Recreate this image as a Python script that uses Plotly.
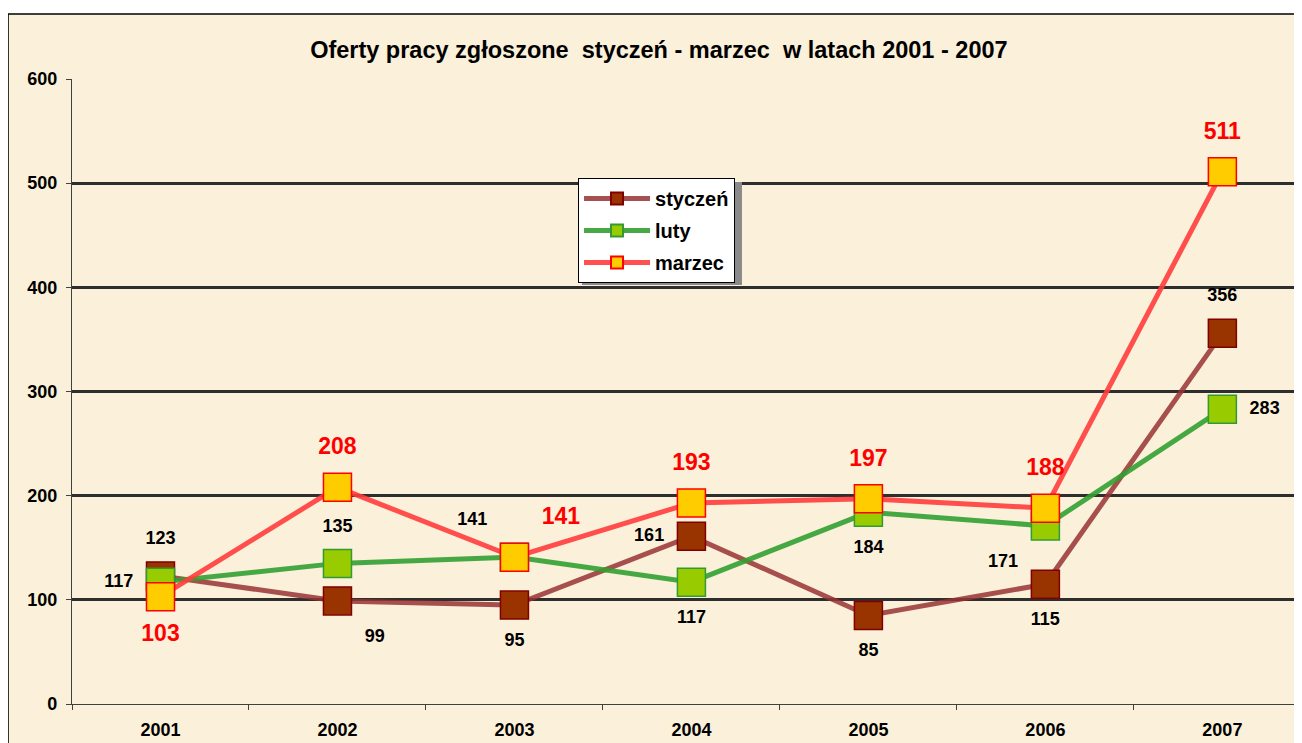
import plotly.graph_objects as go

years = ["2001", "2002", "2003", "2004", "2005", "2006", "2007"]
styczen = [123, 99, 95, 161, 85, 115, 356]
luty = [117, 135, 141, 117, 184, 171, 283]
marzec = [103, 208, 141, 193, 197, 188, 511]

styczen_pos = ["top center", "bottom right", "bottom center", "middle left",
               "bottom center", "bottom center", "top center"]
luty_pos = ["middle left", "top center", "top left", "bottom center",
            "bottom center", "bottom left", "middle right"]
marzec_pos = ["bottom center", "top center", "top right", "top center",
              "top center", "top center", "top center"]

FONT = "Arial, Liberation Sans, sans-serif"
BG = "#FBF0D9"

fig = go.Figure()


def add_series(name, values, line_color, fill, edge):
    fig.add_scatter(
        x=years,
        y=values,
        name=name,
        legendgroup=name,
        mode="lines+markers",
        line=dict(color=line_color, width=5),
        marker=dict(symbol="square", size=28, color=fill,
                    line=dict(color=edge, width=1.5)),
    )


def add_labels(values, positions, text_font):
    # invisible larger markers push the value labels further from the squares
    fig.add_scatter(
        x=years,
        y=values,
        mode="markers+text",
        text=[str(v) for v in values],
        textposition=positions,
        textfont=text_font,
        marker=dict(size=42, color="rgba(0,0,0,0)"),
        showlegend=False,
        hoverinfo="skip",
        cliponaxis=False,
    )


black_lbl = dict(family=FONT, size=18, color="black", weight="bold")
red_lbl = dict(family=FONT, size=23, color="#FF0000", weight="bold")

add_series("styczeń", styczen, "rgba(150,50,50,0.85)", "#993300", "#800000")
add_series("luty", luty, "rgba(50,160,50,0.9)", "#99CC00", "#339933")
add_series("marzec", marzec, "rgba(255,60,60,0.9)", "#FFCC00", "#FF0000")
add_labels(styczen, styczen_pos, black_lbl)
add_labels(luty, luty_pos, black_lbl)
add_labels(marzec, marzec_pos, red_lbl)

# parchment panel with black frame (right/bottom edges fall outside the picture)
fig.add_shape(
    type="rect", xref="paper", yref="paper",
    x0=-0.052, x1=1.2, y0=-0.3, y1=1.104,
    fillcolor=BG, line=dict(color="black", width=1.5), layer="below",
)
# legend drop shadow
fig.add_shape(
    type="rect", xref="paper", yref="paper",
    x0=0.4146, x1=0.5447, y0=0.6704, y1=0.8352,
    fillcolor="#8A8A8A", line=dict(width=0),
)

fig.update_layout(
    width=1294,
    height=735,
    margin=dict(l=64, r=0, t=71, b=39),
    paper_bgcolor="white",
    plot_bgcolor="rgba(0,0,0,0)",
    font=dict(family=FONT, color="black"),
    title=dict(
        text="Oferty pracy zgłoszone  styczeń - marzec  w latach 2001 - 2007",
        x=0.503, xanchor="center", y=1 - 42 / 735, yanchor="middle",
        yref="container",
        font=dict(family=FONT, size=23.5, weight="bold", color="black"),
    ),
    legend=dict(
        x=0.4114, y=0.8416, xanchor="left", yanchor="top",
        bgcolor="white", bordercolor="black", borderwidth=1,
        font=dict(family=FONT, size=20, weight="bold"),
        traceorder="grouped", tracegroupgap=3,
        itemwidth=66, itemsizing="constant",
    ),
    xaxis=dict(
        type="category", range=[-0.5, 6.45],
        tickson="boundaries", ticks="outside", ticklen=5, tickcolor="#404040",
        showline=True, linecolor="#404040", linewidth=1.2,
        showgrid=False, ticklabelstandoff=9,
        tickfont=dict(family=FONT, size=18, weight="bold", color="black"),
    ),
    yaxis=dict(
        range=[0, 600], dtick=100,
        ticks="outside", ticklen=5, tickcolor="#404040",
        showline=True, linecolor="#404040", linewidth=1.2,
        gridcolor="#2E2E2E", gridwidth=2.5, zeroline=False,
        ticklabelstandoff=5,
        tickfont=dict(family=FONT, size=18, weight="bold", color="black"),
    ),
)

fig.write_html("out.html")
